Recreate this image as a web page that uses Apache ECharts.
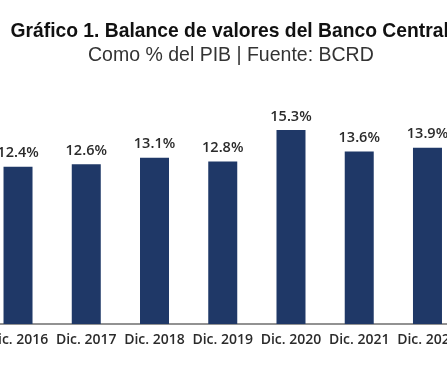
<!DOCTYPE html>
<html>
<head>
<meta charset="utf-8">
<script src="https://cdn.jsdelivr.net/npm/echarts@6/dist/echarts.min.js"></script>
<style>
html,body{margin:0;padding:0;background:#fff;overflow:hidden;width:447px;height:367px;position:relative;}
#chart{position:absolute;left:-30px;top:0;width:500px;height:367px;}
</style>
</head>
<body>
<div id="chart"></div>
<script>
const titleText = 'Gráfico 1. Balance de valores del Banco Central';
const subtitleText = 'Como % del PIB | Fuente: BCRD';
const categories = ['Dic. 2016','Dic. 2017','Dic. 2018','Dic. 2019','Dic. 2020','Dic. 2021','Dic. 2022'];
const values = [12.4, 12.6, 13.1, 12.8, 15.3, 13.6, 13.9];

const chart = echarts.init(document.getElementById('chart'), null, {renderer:'canvas'});
chart.setOption({
  animation:false,
  backgroundColor:'#ffffff',
  title:[
    {text:titleText, left:40.5, top:22.5, padding:0,
     textStyle:{fontFamily:'Liberation Sans, Arial', fontSize:19.3, fontWeight:'bold', color:'#111'}},
    {text:subtitleText, left:118, top:46, padding:0,
     textStyle:{fontFamily:'Liberation Sans, Arial', fontSize:19.5, fontWeight:'normal', color:'#333'}}
  ],
  grid:{left:13.9, right:8.4, top:121, bottom:43},
  xAxis:{
    type:'category', data:categories,
    axisTick:{show:false},
    axisLine:{lineStyle:{color:'#6f6f6f', width:1.5}},
    axisLabel:{color:'#2b2b2b', fontFamily:'Open Sans', fontWeight:600, fontSize:14, margin:9, interval:0}
  },
  yAxis:{type:'value', min:0, max:16, show:false, splitLine:{show:false}},
  series:[{
    type:'bar', data:values, barWidth:29,
    itemStyle:{color:'#1f3867'},
    label:{show:true, position:'top', distance:6, formatter:p=>p.value.toFixed(1)+'%',
      color:'#2b2b2b', fontFamily:'Open Sans', fontWeight:600, fontSize:14.5}
  }]
});
</script>
</body>
</html>
